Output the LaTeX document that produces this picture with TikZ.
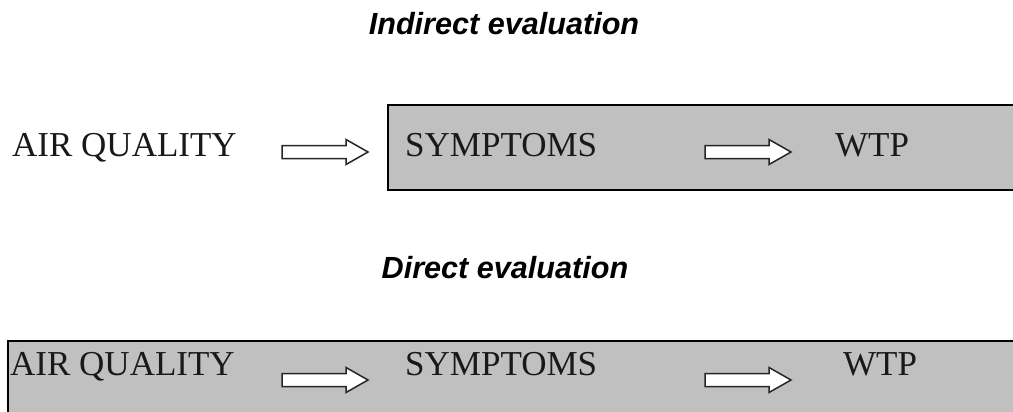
\documentclass[tikz,border=0pt]{standalone}
\usepackage{fontspec}
\setmainfont{Liberation Serif}
\newfontfamily\titlefont{Liberation Sans}
\definecolor{boxgray}{HTML}{C0C0C0}
\tikzset{
  x=1pt, y=-1pt,
  panel/.style={draw=black, fill=boxgray, line width=2.8pt},
  label/.style={anchor=base west, inner sep=0pt, text=black!90, font=\fontsize{35}{41}\selectfont},
  heading/.style={anchor=base, inner sep=0pt, font=\titlefont\bfseries\itshape\fontsize{30.6}{36}\selectfont},
  blockarrow/.pic={
    \draw[fill=white, draw=black!85, line width=1.5pt, line join=miter]
      (0,-6.5) -- (64,-6.5) -- (64,-12.5) -- (86,0) -- (64,12.5) -- (64,6.5) -- (0,6.5) -- cycle;
  }
}
\begin{document}
\begin{tikzpicture}
\useasboundingbox (0,0) rectangle (1013,412);
\begin{scope}
\clip (0,0) rectangle (1013,412);
% panels
\draw[panel] (388,105) rectangle (1030,190);
\draw[panel] (8,341) rectangle (1030,430);
\end{scope}
% headings
\node[heading] (h1) at (504,35) {Indirect evaluation};
\node[heading] (h2) at (505,278) {Direct evaluation};
% top row
\node[label] (aq1) at (12,157) {AIR QUALITY};
\pic at (282,152) {blockarrow};
\node[label] (sy1) at (405,157) {SYMPTOMS};
\pic at (705,152) {blockarrow};
\node[label] (wtp1) at (835,157) {WTP};
% bottom row
\node[label] (aq2) at (10,375) {AIR QUALITY};
\pic at (282,380) {blockarrow};
\node[label] (sy2) at (405,375) {SYMPTOMS};
\pic at (705,380) {blockarrow};
\node[label] (wtp2) at (843,375) {WTP};
\end{tikzpicture}
\end{document}
